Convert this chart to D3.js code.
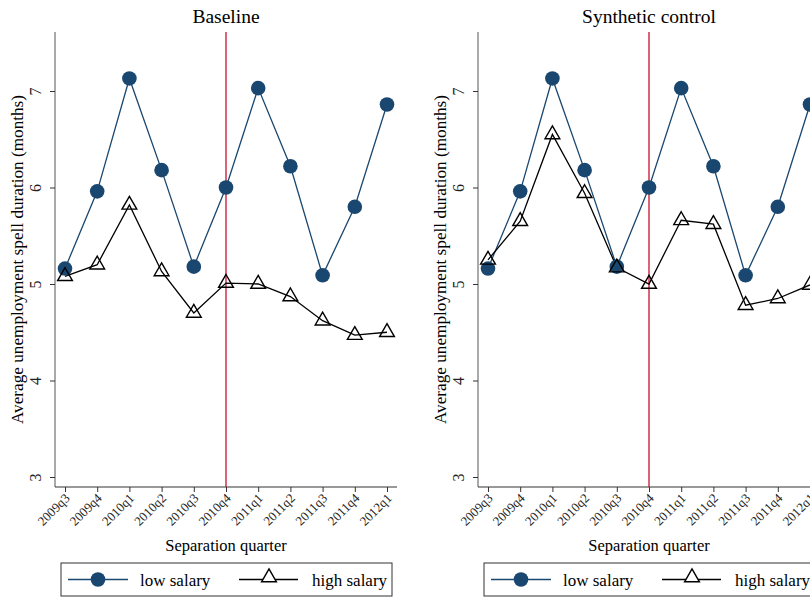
<!DOCTYPE html>
<html>
<head>
<meta charset="utf-8">
<script src="https://cdn.jsdelivr.net/npm/d3@7"></script>
<style>
  body { margin: 0; background: #fff; }
</style>
</head>
<body>
<div id="wrapper"></div>
<script>
const quarters = ["2009q3","2009q4","2010q1","2010q2","2010q3","2010q4","2011q1","2011q2","2011q3","2011q4","2012q1"];
const lowSalary = [5.16, 5.96, 7.13, 6.18, 5.18, 6.00, 7.03, 6.22, 5.09, 5.80, 6.86];
const highBaseline = [5.08, 5.20, 5.82, 5.13, 4.70, 5.01, 5.00, 4.87, 4.62, 4.47, 4.50];
const highSynthetic = [5.25, 5.65, 6.55, 5.94, 5.17, 5.00, 5.66, 5.62, 4.78, 4.85, 4.99];
const yTicks = [3, 4, 5, 6, 7];
const treatQuarter = "2010q4";
const panels = [
  { title: "Baseline", high: highBaseline },
  { title: "Synthetic control", high: highSynthetic }
];

const blue = "#1a476f";
const serif = "Liberation Serif";
const width = 810, height = 599;

const svg = d3.select("#wrapper").append("svg")
  .attr("width", width)
  .attr("height", height)
  .attr("font-family", serif);

const plot = { left: 55, right: 397, top: 32, bottom: 487 };

const x = d3.scalePoint()
  .domain(quarters)
  .range([65, 387]);

const y = d3.scaleLinear()
  .domain([3, 7])
  .range([477, 91]);

const triangle = d3.symbol().type(d3.symbolTriangle).size(95);

function drawPanel(g, p) {
  // title
  g.append("text")
    .attr("x", (plot.left + plot.right) / 2)
    .attr("y", 23)
    .attr("text-anchor", "middle")
    .attr("font-size", 19.5)
    .attr("font-family", serif)
    .text(p.title);

  // y axis
  const yAxis = g.append("g")
    .attr("transform", `translate(${plot.left},0)`)
    .call(d3.axisLeft(y).tickValues(yTicks).tickFormat(d3.format("d")).tickSize(5).tickPadding(4))
    .attr("font-family", serif)
    .attr("font-size", 16);
  yAxis.select(".domain").attr("d", `M0,${plot.top}V${plot.bottom}`).attr("stroke", "#555");
  yAxis.selectAll(".tick line").attr("stroke", "#333");
  yAxis.selectAll(".tick text")
    .attr("x", 0).attr("dy", null)
    .attr("text-anchor", "middle")
    .attr("transform", "translate(-14,0) rotate(-90)")
    .attr("fill", "#222");

  // x axis
  const xAxis = g.append("g")
    .attr("transform", `translate(0,${plot.bottom})`)
    .call(d3.axisBottom(x).tickSize(5).tickPadding(2))
    .attr("font-family", serif)
    .attr("font-size", 13);
  xAxis.select(".domain").attr("d", `M${plot.left},0H${plot.right}`).attr("stroke", "#333");
  xAxis.selectAll(".tick line").attr("stroke", "#333");
  xAxis.selectAll(".tick text")
    .attr("y", 0).attr("dy", null)
    .attr("text-anchor", "end")
    .attr("transform", "translate(5,12) rotate(-45)")
    .attr("fill", "#222");

  // axis titles
  g.append("text")
    .attr("transform", `translate(23,${(plot.top + plot.bottom) / 2}) rotate(-90)`)
    .attr("text-anchor", "middle")
    .attr("font-size", 17.2)
    .attr("font-family", serif)
    .text("Average unemployment spell duration (months)");

  g.append("text")
    .attr("x", (plot.left + plot.right) / 2)
    .attr("y", 551)
    .attr("text-anchor", "middle")
    .attr("font-size", 16.5)
    .attr("font-family", serif)
    .text("Separation quarter");

  // treatment line
  g.append("line")
    .attr("x1", x(treatQuarter)).attr("x2", x(treatQuarter))
    .attr("y1", plot.top).attr("y2", plot.bottom)
    .attr("stroke", "#c8102e")
    .attr("stroke-width", 1.3);

  const line = d3.line().x((d, i) => x(quarters[i])).y(d => y(d));

  g.append("path")
    .datum(lowSalary)
    .attr("d", line)
    .attr("fill", "none")
    .attr("stroke", blue)
    .attr("stroke-width", 1.3);

  g.append("path")
    .datum(p.high)
    .attr("d", line)
    .attr("fill", "none")
    .attr("stroke", "#000")
    .attr("stroke-width", 1.3);

  g.selectAll("circle.low")
    .data(lowSalary)
    .enter()
    .append("circle")
    .attr("class", "low")
    .attr("cx", (d, i) => x(quarters[i]))
    .attr("cy", d => y(d))
    .attr("r", 7.3)
    .attr("fill", blue);

  g.selectAll("path.high")
    .data(p.high)
    .enter()
    .append("path")
    .attr("class", "high")
    .attr("d", triangle)
    .attr("transform", (d, i) => `translate(${x(quarters[i])},${y(d)})`)
    .attr("fill", "none")
    .attr("stroke", "#000")
    .attr("stroke-width", 1.4);

  // legend
  const leg = g.append("g").attr("transform", "translate(61,563)");
  leg.append("rect")
    .attr("width", 331).attr("height", 33)
    .attr("fill", "#fff")
    .attr("stroke", "#333")
    .attr("stroke-width", 1);
  leg.append("line")
    .attr("x1", 7).attr("x2", 67).attr("y1", 16.5).attr("y2", 16.5)
    .attr("stroke", blue).attr("stroke-width", 1.3);
  leg.append("circle")
    .attr("cx", 37).attr("cy", 16.5).attr("r", 7.3).attr("fill", blue);
  leg.append("text")
    .attr("x", 79).attr("y", 23)
    .attr("font-size", 17)
    .attr("font-family", serif)
    .text("low salary");
  leg.append("line")
    .attr("x1", 178).attr("x2", 237).attr("y1", 16.5).attr("y2", 16.5)
    .attr("stroke", "#000").attr("stroke-width", 1.3);
  leg.append("path")
    .attr("d", triangle)
    .attr("transform", "translate(208,14.5)")
    .attr("fill", "#fff").attr("stroke", "#000").attr("stroke-width", 1.4);
  leg.append("text")
    .attr("x", 251).attr("y", 23)
    .attr("font-size", 17)
    .attr("font-family", serif)
    .text("high salary");
}

panels.forEach((p, i) => {
  const g = svg.append("g").attr("transform", `translate(${i * 423},0)`);
  drawPanel(g, p);
});
</script>
</body>
</html>
